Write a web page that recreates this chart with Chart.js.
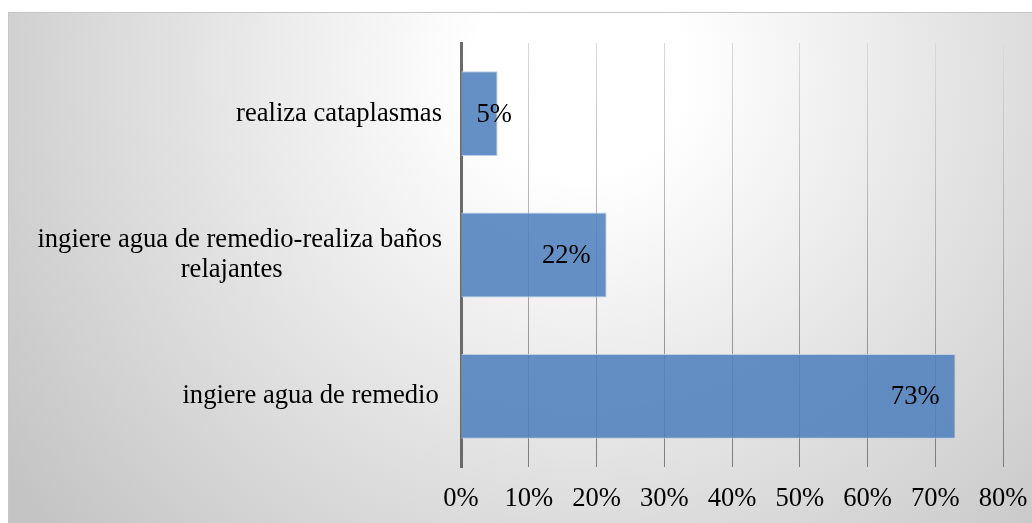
<!DOCTYPE html>
<html>
<head>
<meta charset="utf-8">
<script src="https://cdn.jsdelivr.net/npm/chart.js@4"></script>
<style>
  html, body { margin: 0; padding: 0; background: #fff; }
  #wrap { position: relative; width: 1032px; height: 523px; }
</style>
</head>
<body>
<div id="wrap"><canvas id="chart" width="1032" height="523"></canvas></div>
<script>
/* ── Data ─────────────────────────────────────────────── */
const categories = [
  'realiza cataplasmas',
  ['ingiere agua de remedio-realiza baños', 'relajantes'],
  'ingiere agua de remedio ',
];
const shares = [5.4, 21.5, 73];          // % of respondents
const xTicks = [0, 10, 20, 30, 40, 50, 60, 70, 80];

const FONT = "'Liberation Serif', 'Times New Roman', serif";

const canvas = document.getElementById('chart');
const c2d = canvas.getContext('2d');

// grid lines get darker toward the bottom, like the reference
const gridGrad = c2d.createLinearGradient(0, 43, 0, 467);
gridGrad.addColorStop(0, '#dadada');
gridGrad.addColorStop(1, '#7c7c7c');

/* ── Background panel ─────────────────────────────────── */
const panelBg = {
  id: 'panelBg',
  beforeDraw(chart) {
    const { ctx, width, height } = chart;
    ctx.save();
    ctx.fillStyle = '#fff';
    ctx.fillRect(0, 0, width, height);
    const g = ctx.createRadialGradient(580, 70, 0, 580, 70, 700);
    g.addColorStop(0, '#ffffff');
    g.addColorStop(0.15, '#ffffff');
    g.addColorStop(1, '#c4c4c4');
    ctx.fillStyle = g;
    ctx.fillRect(8, 12, width - 8, height - 12);
    ctx.strokeStyle = '#c6c6c6';
    ctx.lineWidth = 1;
    ctx.beginPath();
    ctx.moveTo(8.5, height);
    ctx.lineTo(8.5, 12.5);
    ctx.lineTo(width, 12.5);
    ctx.stroke();
    ctx.restore();
  },
};

/* ── Category labels (centered blocks, right aligned) ─── */
const catLabels = {
  id: 'catLabels',
  afterDraw(chart) {
    const { ctx } = chart;
    const yScale = chart.scales.y;
    const right = 442, lineH = 30;
    ctx.save();
    ctx.font = `26.6px ${FONT}`;
    ctx.fillStyle = '#000';
    ctx.textBaseline = 'middle';
    ctx.textAlign = 'center';
    categories.forEach((lab, i) => {
      const lines = Array.isArray(lab) ? lab : [lab];
      const blockW = Math.max(...lines.map(l => ctx.measureText(l).width));
      const cx = right - blockW / 2;
      const yc = yScale.getPixelForValue(i);
      const y0 = yc - (lines.length - 1) * lineH / 2;
      lines.forEach((l, k) => {
        const w = ctx.measureText(l).width;
        const shift = lines.length > 1 && k > 0 ? -8 : 0;
        ctx.fillText(l, cx + (w - ctx.measureText(l.trimEnd()).width) / 2 + shift, y0 + k * lineH);
      });
    });
    ctx.restore();
  },
};

/* ── Value labels, inside end ─────────────────────────── */
const valueLabels = {
  id: 'valueLabels',
  afterDatasetsDraw(chart) {
    const { ctx } = chart;
    const meta = chart.getDatasetMeta(0);
    ctx.save();
    ctx.font = `26.6px ${FONT}`;
    ctx.fillStyle = '#000';
    ctx.textBaseline = 'middle';
    ctx.textAlign = 'left';
    meta.data.forEach((bar, i) => {
      const txt = Math.round(shares[i]) + '%';
      const w = ctx.measureText(txt).width;
      const x = Math.max(bar.base + 15, bar.x - 16 - w);
      ctx.fillText(txt, x, bar.y + 1);
    });
    ctx.restore();
  },
};

new Chart(canvas, {
  type: 'bar',
  data: {
    labels: categories,
    datasets: [{
      data: shares,
      backgroundColor: 'rgba(79,129,189,0.88)',
      borderColor: 'rgba(185,205,232,0.95)',
      borderWidth: 1,
      borderSkipped: false,
      categoryPercentage: 1,
      barPercentage: 0.6,
    }],
  },
  options: {
    indexAxis: 'y',
    responsive: false,
    animation: false,
    events: [],
    layout: { padding: { left: 8, top: 43, right: 29, bottom: 0 } },
    plugins: {
      legend: { display: false },
      tooltip: { enabled: false },
    },
    scales: {
      x: {
        min: 0,
        max: 80,
        afterBuildTicks(s) { s.ticks = xTicks.map(v => ({ value: v })); },
        grid: { color: gridGrad, lineWidth: 1, drawTicks: false },
        border: { display: false },
        ticks: {
          padding: 16,
          color: '#000',
          font: { family: FONT, size: 26.6 },
          callback: v => v + '%',
        },
        afterFit(s) {
          s.height = 56;
          s.paddingLeft = 0;
          s.paddingRight = 0;
        },
      },
      y: {
        grid: { display: false },
        border: { display: true, color: '#6a6a6a', width: 3 },
        ticks: { display: false },
        afterFit(s) { s.width = 453; },
      },
    },
  },
  plugins: [panelBg, catLabels, valueLabels],
});
</script>
</body>
</html>
